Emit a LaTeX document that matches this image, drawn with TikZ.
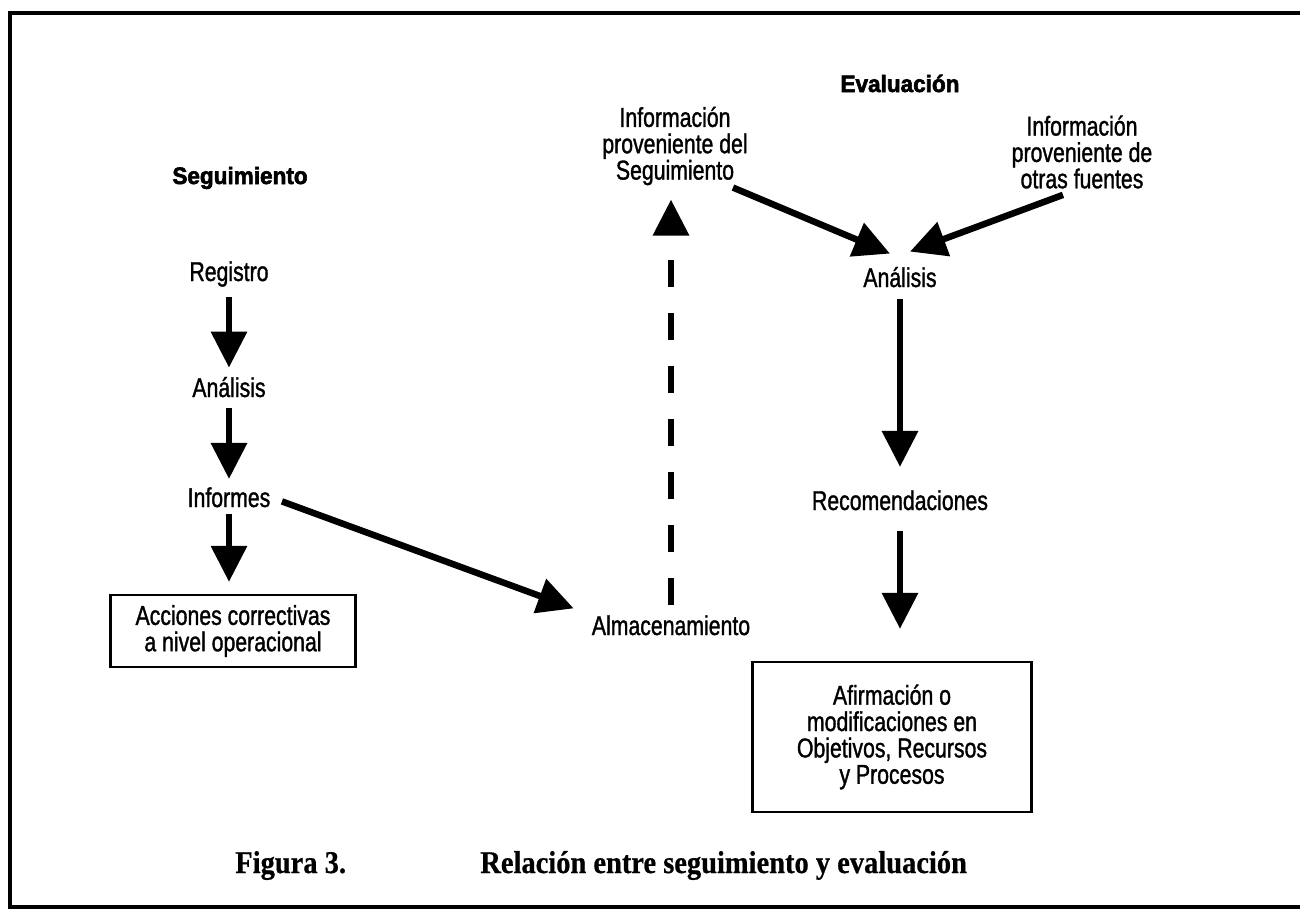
\documentclass[tikz,border=0pt]{standalone}
\usepackage{fontspec}
\setmainfont{Liberation Sans}[FakeStretch=0.78, FakeBold=1.2]
\newfontfamily\headfont{Liberation Sans Bold}[FakeStretch=0.95, FakeBold=2.5]
\newfontfamily\capfont{Liberation Serif Bold}[FakeStretch=0.9, FakeBold=0.6]
\usetikzlibrary{arrows.meta,positioning}

\begin{document}
\begin{tikzpicture}[
    x=0.2mm, y=-0.2mm,
    lbl/.style={inner sep=0pt, align=center, font=\fontsize{15.5}{15}\selectfont},
    head/.style={inner sep=0pt, font=\headfont\fontsize{13.5}{14}\selectfont},
    box/.style={draw, line width=0.45mm, lbl},
    caption/.style={inner sep=0pt, anchor=base west, font=\capfont\fontsize{18}{20}\selectfont},
    arrow/.style={-{Triangle[length=7.2mm,width=7mm]}, line width=1.3mm},
    dasharrow/.style={arrow, dash pattern=on 5.4mm off 5.2mm}
  ]
    \useasboundingbox (0,0) rectangle (1300,913);

    % Marco
    \draw[line width=0.8mm] (1300,13) -- (10,13) -- (10,907) -- (1300,907);

    % Seguimiento
    \node[head, anchor=base] (seg) at (240,184) {Seguimiento};
    \node[lbl, anchor=base] (reg) at (229,281) {Registro};
    \node[lbl, anchor=base] (anl1) at (229,397) {Análisis};
    \node[lbl, anchor=base] (inf) at (229,507) {Informes};
    \node[box, minimum width=49mm, minimum height=14.4mm] (acc) at (233,631)
      {Acciones correctivas\\a nivel operacional};

    % Almacenamiento
    \node[lbl, anchor=base] (alm) at (671,635) {Almacenamiento};

    % Evaluación
    \node[head, anchor=base] (eva) at (900,92) {Evaluación};
    \node[lbl] (infseg) at (675,146) {Información\\proveniente del\\Seguimiento};
    \node[lbl] (infotras) at (1082,152) {Información\\proveniente de\\otras fuentes};
    \node[lbl, anchor=base] (anl2) at (900,287) {Análisis};
    \node[lbl, anchor=base] (rec) at (900,510) {Recomendaciones};
    \node[box, minimum width=55.8mm, minimum height=30mm] (afirm) at (892,737)
      {Afirmación o\\modificaciones en\\Objetivos, Recursos\\y Procesos};

    % Pie
    \node[caption] (fig) at (235,873) {Figura 3.};
    \node[caption] (rel) at (480,873) {Relación entre seguimiento y evaluación};

    % Arrows
    \draw[arrow, shorten <=2mm, shorten >=1.8mm] (reg.south) -- (anl1.north);
    \draw[arrow, shorten <=2mm, shorten >=1.6mm] (anl1.south) -- (inf.north);
    \draw[arrow, shorten <=1.2mm, shorten >=2.4mm] (inf.south) -- (inf.south |- acc.north);
    \draw[arrow, shorten <=2.4mm, shorten >=3.8mm] (inf.east) -- (alm.north west);
    \draw[dasharrow, shorten <=2mm, shorten >=2.8mm] (alm.north) -- (alm.north |- infseg.south);
    \draw[arrow] ([xshift=-3mm,yshift=-0.4mm]infseg.south east) -- ([xshift=-2mm,yshift=2.6mm]anl2.north);
    \draw[arrow] ([xshift=-3.8mm,yshift=-1.2mm]infotras.south) -- ([xshift=2mm,yshift=3mm]anl2.north);
    \draw[arrow, shorten <=2.2mm, shorten >=4.6mm] (anl2.south) -- (rec.north);
    \draw[arrow, shorten <=4mm, shorten >=6.4mm] (rec.south) -- (rec.south |- afirm.north);
  \end{tikzpicture}
\end{document}
